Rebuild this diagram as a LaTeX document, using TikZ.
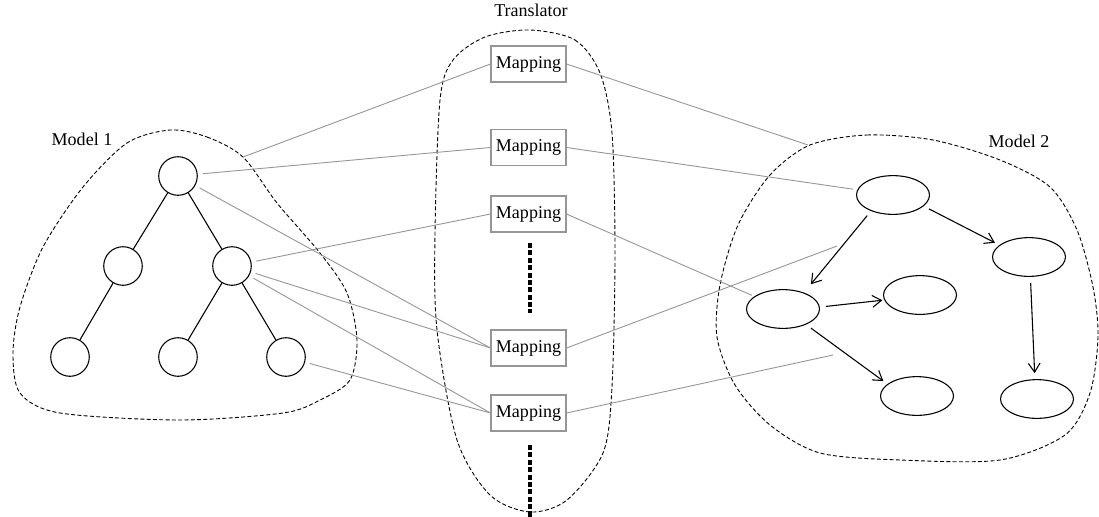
\documentclass[tikz,border=0pt]{standalone}
\usepackage{fontspec}
\setmainfont{Liberation Serif}
\usetikzlibrary{arrows.meta,shapes.geometric}
\definecolor{linkgray}{RGB}{150,150,150}
\begin{document}
\begin{tikzpicture}[x=0.555pt,y=-0.555pt,
    circ/.style={draw,circle,line width=0.6pt,minimum size=21.4pt,inner sep=0pt},
    elli/.style={draw,ellipse,line width=0.6pt,minimum width=40.5pt,minimum height=21.5pt,inner sep=0pt},
    mapbox/.style={draw=linkgray,line width=0.6pt,minimum width=41.6pt,minimum height=20pt,inner sep=0pt},
    link/.style={draw=linkgray,line width=0.5pt},
    blob/.style={line width=0.5pt,dash pattern=on 2.2pt off 1.3pt},
    dots/.style={line width=1.8pt,dash pattern=on 2.8pt off 1.3pt},
    dirarrow/.style={-{Straight Barb[length=5pt,width=6.5pt]},line width=0.6pt,shorten <=3.3pt,shorten >=2.8pt}]
    \useasboundingbox (0,0) rectangle (1099,517);

    % Modelo 1
    \node[circ] (c1) at (178,176) {};
    \node[circ] (c2) at (123,266) {};
    \node[circ] (c3) at (232,266) {};
    \node[circ] (c4) at (70,357) {};
    \node[circ] (c5) at (178,357) {};
    \node[circ] (c6) at (286,357) {};
    \draw[line width=0.6pt] (c1) -- (c2) (c1) -- (c3) (c2) -- (c4) (c3) -- (c5) (c3) -- (c6);
    \draw[blob] plot[smooth cycle] coordinates {(170,130) (207,137) (243,157) (277,203) (320,253)
        (347,293) (357,340) (350,380) (320,400) (283,413) (180,420) (60,413) (20,393) (13,353)
        (20,307) (43,247) (83,187) (127,143)};
    \node (lab1) at (82,139) {Model 1};

    % Tradutor
    \node (labt) at (531,10) {Translator};
    \draw[blob] plot[smooth cycle] coordinates {(530,30) (575,40) (600,73) (612,133) (615,253)
        (612,387) (603,453) (567,500) (530,512) (490,495) (457,440) (437,330) (435,233)
        (440,100) (453,60) (485,37)};
    \node[mapbox] (m1) at (528.5,64) {Mapping};
    \node[mapbox] (m2) at (528.5,147.5) {Mapping};
    \node[mapbox] (m3) at (528.5,214) {Mapping};
    \node[mapbox] (m4) at (528.5,348) {Mapping};
    \node[mapbox] (m5) at (528.5,413) {Mapping};
    \coordinate (d1a) at (530,243);
    \coordinate (d1b) at (530,313);
    \coordinate (d2a) at (530,445);
    \coordinate (d2b) at (530,517);
    \draw[dots] (d1a) -- (d1b);
    \draw[dots] (d2a) -- (d2b);

    % Modelo 2
    \node[elli] (n1) at (893,195) {};
    \node[elli] (n2) at (1029,257) {};
    \node[elli] (n3) at (783,309) {};
    \node[elli] (n4) at (920,295) {};
    \node[elli] (n5) at (917,396) {};
    \node[elli] (n6) at (1037,399) {};
    \draw[dirarrow,shorten >=6pt] (n1.216) -- (n3.38);
    \draw[dirarrow] (n1.340) -- (n2.158);
    \draw[dirarrow,shorten >=3.3pt] (n2.274) -- (n6.96);
    \draw[dirarrow,shorten >=1pt] (n3.3) -- (n4.188);
    \draw[dirarrow] (n3.326) -- (n5.158);
    \draw[blob] plot[smooth cycle] coordinates {(810,145) (867,135) (933,140) (1000,160)
        (1050,187) (1077,230) (1093,287) (1098,337) (1090,393) (1065,435) (1000,460)
        (900,460) (820,453) (770,425) (735,385) (717,337) (720,285) (738,225) (770,175)};
    \node (lab2) at (1019,141) {Model 2};

    % Ligacoes
    \coordinate (m1in) at (243,157);
    \coordinate (m1out) at (808,145);
    \coordinate (m4out) at (837,246);
    \coordinate (m5out) at (833,355);
    \draw[link] (m1in) -- (m1.west);
    \draw[link,shorten <=2.7pt] (c1) -- (m2.west);
    \draw[link,shorten <=2.7pt] (c3) -- (m3.west);
    \draw[link,shorten <=2.7pt] (c1) -- (m4.west);
    \draw[link,shorten <=2.7pt] (c3) -- (m4.west);
    \draw[link,shorten <=2.7pt] (c3) -- (m5.west);
    \draw[link,shorten <=2.7pt] (c6) -- (m5.west);
    \draw[link] (m1.east) -- (m1out);
    \draw[link,shorten >=2.5pt] (m2.east) -- (n1);
    \draw[link,shorten >=1.5pt] (m3.east) -- (n3);
    \draw[link] (m4.east) -- (m4out);
    \draw[link] (m5.east) -- (m5out);
\end{tikzpicture}
\end{document}
